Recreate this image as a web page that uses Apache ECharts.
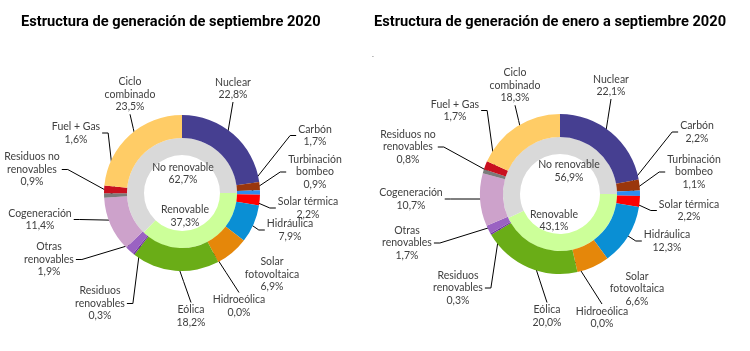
<!DOCTYPE html>
<html>
<head>
<meta charset="utf-8">
<script src="https://cdn.jsdelivr.net/npm/echarts@6/dist/echarts.min.js"></script>
<style>
html, body { margin: 0; padding: 0; background: #fff; }
#chart { width: 750px; height: 351px; }
</style>
</head>
<body>
<div id="chart"></div>
<script>
// technologies, clockwise from 12 o'clock
const categories = ['Nuclear', 'Carbón', 'Turbinación bombeo', 'Solar térmica', 'Hidráulica',
    'Solar fotovoltaica', 'Hidroeólica', 'Eólica', 'Residuos renovables', 'Otras renovables',
    'Cogeneración', 'Residuos no renovables', 'Fuel + Gas', 'Ciclo combinado'];
const labelNames = ['Nuclear', 'Carbón', 'Turbinación\nbombeo', 'Solar térmica', 'Hidráulica',
    'Solar\nfotovoltaica', 'Hidroeólica', 'Eólica', 'Residuos\nrenovables', 'Otras\nrenovables',
    'Cogeneración', 'Residuos no\nrenovables', 'Fuel + Gas', 'Ciclo\ncombinado'];
const sepValues = [22.8, 1.7, 0.9, 2.2, 7.9, 6.9, 0.0, 18.2, 0.3, 1.9, 11.4, 0.9, 1.6, 23.5];
const ytdValues = [22.1, 2.2, 1.1, 2.2, 12.3, 6.6, 0.0, 20.0, 0.3, 1.7, 10.7, 0.8, 1.7, 18.3];

const groups = ['Renovable', 'No renovable'];
const sepGroups = [37.3, 62.7];
const ytdGroups = [43.1, 56.9];

const titles = ['Estructura de generación de septiembre 2020', 'Estructura de generación de enero a septiembre 2020'];

const colors = ['#463f91', '#9a360c', '#2e8cf0', '#ff0000', '#0a8fd4', '#e5870a', '#00b0f0',
    '#6aad17', '#7030a0', '#9a62c2', '#cda2cb', '#7b7b7b', '#c9101f', '#ffcc66'];
const groupColors = ['#ccff99', '#d9d9d9'];

// label centres and where the leader line attaches
const leftLabels = [
    [233, 88.5, 'bottom'], [315, 135.5, 'left'], [315, 172, 'left'], [308, 208, 'left'],
    [290, 230, 'left'], [272, 274.5, 'none'], [239, 306, 'top'], [191, 316, 'top'],
    [100, 303.5, 'right'], [49, 259.5, 'right'], [40, 219.5, 'right'], [32, 169.5, 'right'],
    [76, 133, 'right'], [130, 94.5, 'bottom']
];
const rightLabels = [
    [611, 85.5, 'bottom'], [697, 132, 'left'], [694, 172, 'left'], [689, 210.5, 'left'],
    [667, 241, 'left'], [637, 289, 'none'], [602, 317.5, 'top'], [547, 316, 'top'],
    [458, 288, 'right'], [407, 243, 'right'], [411, 199, 'right'], [408, 147, 'right'],
    [455, 110.5, 'right'], [515, 85.5, 'bottom']
];
const leftInner = [[185, 216], [183, 173.5]];
const rightInner = [[554, 220.5], [569, 171]];

const pies = [
    { center: [182, 193], inner: [38, 55], outer: [55, 78], values: sepValues, groupValues: sepGroups, labels: leftLabels, innerLabels: leftInner },
    { center: [560, 194], inner: [40, 57], outer: [57, 80], values: ytdValues, groupValues: ytdGroups, labels: rightLabels, innerLabels: rightInner }
];

const fmt = (v) => v.toFixed(1).replace('.', ',') + '%';
const textStyle = { fontFamily: 'Lato', fontSize: 10.5, lineHeight: 12.5, color: '#404040' };

const chart = echarts.init(document.getElementById('chart'));

const series = [];
pies.forEach((p) => {
    series.push({
        type: 'pie',
        center: p.center,
        radius: p.inner,
        startAngle: 0,
        clockwise: true,
        avoidLabelOverlap: false,
        silent: true,
        label: Object.assign({ show: true, position: 'inside', formatter: (d) => d.name + '\n' + fmt(d.value) }, textStyle),
        labelLine: { show: false },
        labelLayout: (params) => {
            const pos = p.innerLabels[params.dataIndex];
            return { x: pos[0], y: pos[1], align: 'center', verticalAlign: 'middle' };
        },
        data: groups.map((g, i) => ({ name: g, value: p.groupValues[i], itemStyle: { color: groupColors[i] } }))
    });
    series.push({
        type: 'pie',
        center: p.center,
        radius: p.outer,
        startAngle: 90,
        clockwise: true,
        avoidLabelOverlap: false,
        minShowLabelAngle: 0,
        silent: true,
        label: Object.assign({
            show: true,
            position: 'outside',
            formatter: (d) => labelNames[d.dataIndex] + '\n' + fmt(d.value)
        }, textStyle),
        labelLine: { show: true, length: 8, length2: 6, lineStyle: { color: '#000', width: 1 } },
        labelLayout: (params) => {
            const pos = p.labels[params.dataIndex];
            const w = params.labelRect.width, h = params.labelRect.height;
            const out = { x: pos[0], y: pos[1], align: 'center', verticalAlign: 'middle' };
            const pts = params.labelLinePoints;
            if (pts && pos[2] !== 'none') {
                const a = Math.atan2(pts[0][1] - p.center[1], pts[0][0] - p.center[0]);
                const rm = (p.outer[0] + p.outer[1]) / 2 + 1;
                const p0 = [p.center[0] + rm * Math.cos(a), p.center[1] + rm * Math.sin(a)];
                let p1, p2;
                if (pos[2] === 'left') {
                    p2 = [pos[0] - w / 2 - 2, pos[1]];
                    p1 = [p2[0] - 6, pos[1]];
                } else if (pos[2] === 'right') {
                    p2 = [pos[0] + w / 2 + 2, pos[1]];
                    p1 = [p2[0] + 6, pos[1]];
                } else if (pos[2] === 'top') {
                    p2 = [pos[0], pos[1] - h / 2 - 1];
                    p1 = [(p0[0] + p2[0]) / 2, (p0[1] + p2[1]) / 2];
                } else {
                    p2 = [pos[0], pos[1] + h / 2 + 1];
                    p1 = [(p0[0] + p2[0]) / 2, (p0[1] + p2[1]) / 2];
                }
                out.labelLinePoints = [p0, p1, p2];
            }
            return out;
        },
        data: categories.map((c, i) => ({
            name: c,
            value: p.values[i],
            itemStyle: { color: colors[i] },
            labelLine: { show: p.labels[i][2] !== 'none' }
        }))
    });
});

chart.setOption({
    animation: false,
    graphic: [
        { type: 'text', x: 21, y: 22, scaleX: 0.975, style: { text: titles[0], font: 'bold 15px Roboto', fill: '#000', verticalAlign: 'middle' } },
        { type: 'text', x: 374, y: 22, scaleX: 0.975, style: { text: titles[1], font: 'bold 15px Roboto', fill: '#000', verticalAlign: 'middle' } },
        { type: 'text', x: 372, y: 50, style: { text: '.', font: '8px Lato', fill: '#666' } }
    ],
    series: series
});
</script>
</body>
</html>
